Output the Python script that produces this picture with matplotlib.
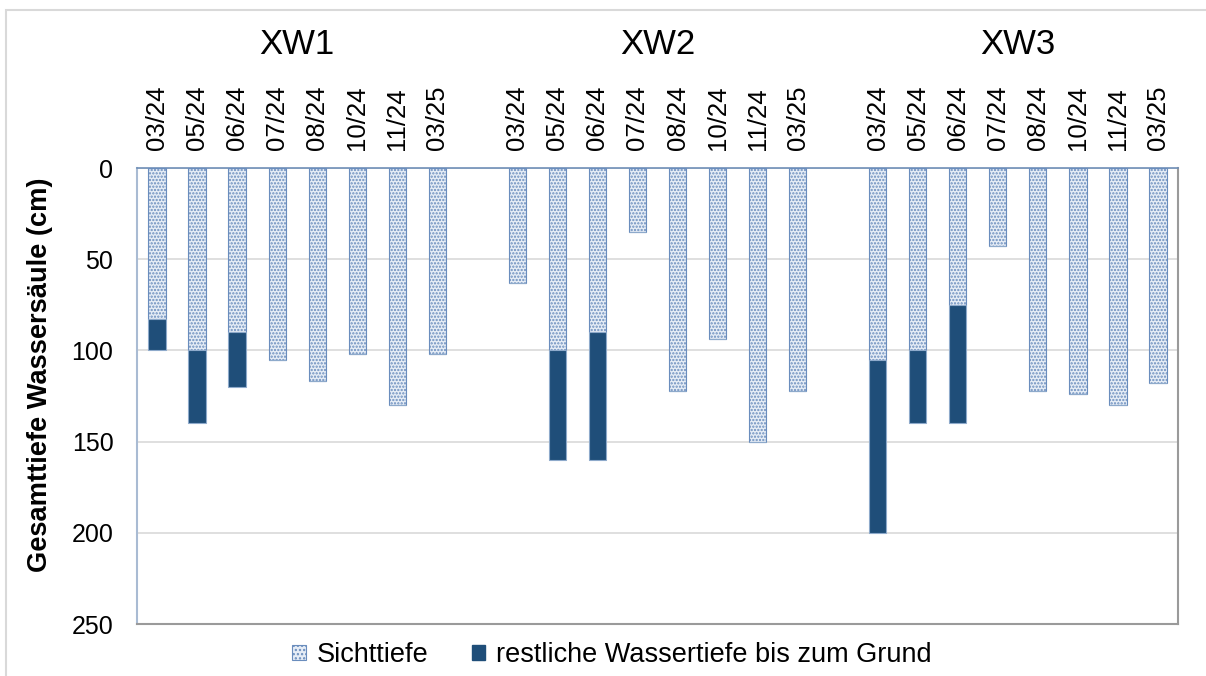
import numpy as np
import matplotlib
matplotlib.use('Agg')
import matplotlib.pyplot as plt
from matplotlib.patches import Patch, Rectangle

plt.rcParams['font.family'] = ['Liberation Sans', 'DejaVu Sans']
plt.rcParams['hatch.linewidth'] = 1.1

# data (cm)
stations = ['XW1', 'XW2', 'XW3']
dates = ['03/24', '05/24', '06/24', '07/24', '08/24', '10/24', '11/24', '03/25']
# Sichttiefe per station
sicht_xw1 = [83, 100, 90, 105, 117, 102, 130, 102]
sicht_xw2 = [63, 100, 90, 35, 122, 94, 150, 122]
sicht_xw3 = [105, 100, 75, 43, 122, 124, 130, 118]
# remaining depth down to the bottom (0 = not measured)
rest_xw1 = [17, 40, 30, 0, 0, 0, 0, 0]
rest_xw2 = [0, 60, 70, 0, 0, 0, 0, 0]
rest_xw3 = [95, 40, 65, 0, 0, 0, 0, 0]

sicht = [sicht_xw1, sicht_xw2, sicht_xw3]
rest = [rest_xw1, rest_xw2, rest_xw3]

light = '#e6edf6'
hatch_col = '#6a8dbd'
dark = '#1f4e79'

fig = plt.figure(figsize=(12.06, 6.76), dpi=100)
ax = fig.add_axes([137/1206, 1-624/676, (1178-137)/1206, (624-168)/676])

n = len(dates)
width = 0.43
ticks, labels = [], []
for g in range(len(stations)):
    x = np.arange(n) + g * (n + 1)
    ax.bar(x, sicht[g], width, color=light, edgecolor=hatch_col, hatch='.....', linewidth=0.8, zorder=3)
    ax.bar(x, rest[g], width, bottom=sicht[g], color=dark, edgecolor='#8eaacb', linewidth=0.8, zorder=3)
    ticks += list(x)
    labels += dates
    ax.text(x.mean(), 1.27, stations[g], transform=ax.get_xaxis_transform(),
            ha='center', va='center', fontsize=25)

ax.set_xlim(-0.5, 3 * n + 2 - 0.5)
ax.set_ylim(250, 0)
ax.set_yticks([0, 50, 100, 150, 200, 250])
ax.set_xticks(ticks)
ax.set_xticklabels(labels, rotation=90)
ax.xaxis.tick_top()
ax.tick_params(axis='x', length=0, pad=13, labelsize=18.5)
ax.tick_params(axis='y', length=0, pad=17, labelsize=18)
ax.set_ylabel('Gesamttiefe Wassersäule (cm)', fontsize=19.6, fontweight='bold')
ax.yaxis.set_label_coords(-0.081, 0.546)

ax.grid(axis='y', color='#d9d9d9', linewidth=1.2, zorder=0)
ax.spines['top'].set_color('#6f8fb7')
ax.spines['top'].set_linewidth(1.2)
ax.spines['left'].set_color('#a9bbd3')
ax.spines['right'].set_color('#9a9a9a')
ax.spines['bottom'].set_color('#9a9a9a')
for s in ['right', 'bottom', 'left']:
    ax.spines[s].set_linewidth(1.5)

handles = [Patch(facecolor=light, edgecolor=hatch_col, hatch='....', linewidth=0.8),
           Patch(facecolor=dark, edgecolor=dark)]
fig.legend(handles, ['Sichttiefe', 'restliche Wassertiefe bis zum Grund'],
           loc='center', bbox_to_anchor=(612/1206, 1-655/676), ncol=2, frameon=False,
           fontsize=19.5, handlelength=0.5, handleheight=0.5, handletextpad=0.4,
           columnspacing=1.6)

# outer chart border
fig.add_artist(Rectangle((6/1206, -0.05), 1.1, 1.05 - 10/676, transform=fig.transFigure,
                         fill=False, edgecolor='#d9d9d9', linewidth=1.5))

fig.savefig('out.png', dpi=100)
